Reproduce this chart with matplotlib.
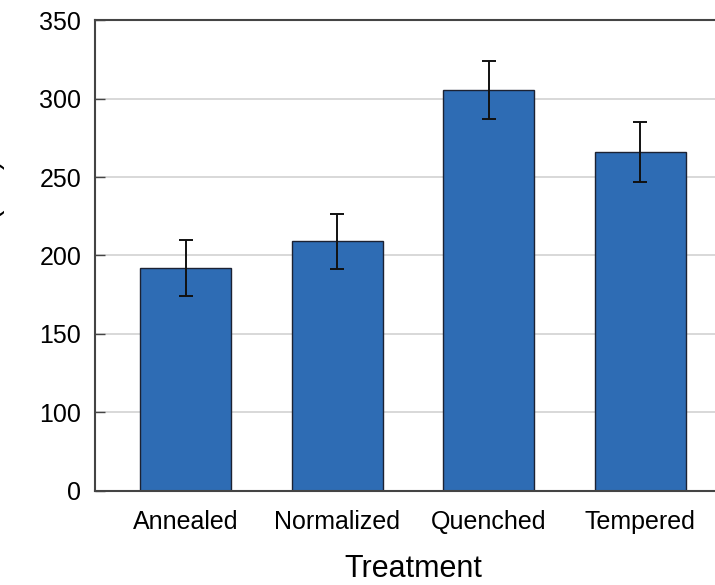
import matplotlib
matplotlib.use("Agg")
import matplotlib.pyplot as plt

# data
treatments = ["Annealed", "Normalized", "Quenched", "Tempered"]
hardness = [192, 209, 305.5, 266]
hardness_err = [18, 17.5, 18.5, 19]

# the axis in the picture starts at 50, but its bottom label reads "0"
ytick_vals = [50, 100, 150, 200, 250, 300, 350]
ytick_labels = ["0", "100", "150", "200", "250", "300", "350"]

plt.rcParams["font.family"] = ["Liberation Sans", "DejaVu Sans"]

fig = plt.figure(figsize=(7.15, 5.85), dpi=100)
# axes run past the right edge, like the cropped original
ax = fig.add_axes([0.1329, 0.1607, 0.8895, 0.8051])

x = range(len(treatments))
ax.bar(x, hardness, width=0.6, color="#2E6CB4", edgecolor="#1c2233",
       linewidth=1.0, zorder=2)
ax.errorbar(x, hardness, yerr=hardness_err, fmt="none", ecolor="#111111",
            elinewidth=1.4, capsize=5, capthick=1.4, zorder=3)

ax.set_xlim(-0.6, 3.6)
ax.set_ylim(50, 350)
ax.set_yticks(ytick_vals)
ax.set_yticklabels(ytick_labels)
ax.set_xticks(list(x))
ax.set_xticklabels(treatments)

ax.yaxis.grid(True, color="#d2d2d2", linewidth=1.2, zorder=0)
ax.set_axisbelow(True)

for side in ["left", "top", "bottom", "right"]:
    ax.spines[side].set_color("#444444")
    ax.spines[side].set_linewidth(1.5)

ax.tick_params(axis="y", direction="in", length=7, width=1.0,
               color="#444444", labelsize=18, pad=10)
ax.tick_params(axis="x", length=0, labelsize=18, pad=14)

ax.set_xlabel("Treatment", fontsize=22, labelpad=14)
# y label is mostly cut off at the left edge in the reference
ax.set_ylabel("Hardness (HV)", fontsize=21)
ax.yaxis.set_label_coords(-0.142, 0.5)

fig.savefig("out.png", dpi=100)
